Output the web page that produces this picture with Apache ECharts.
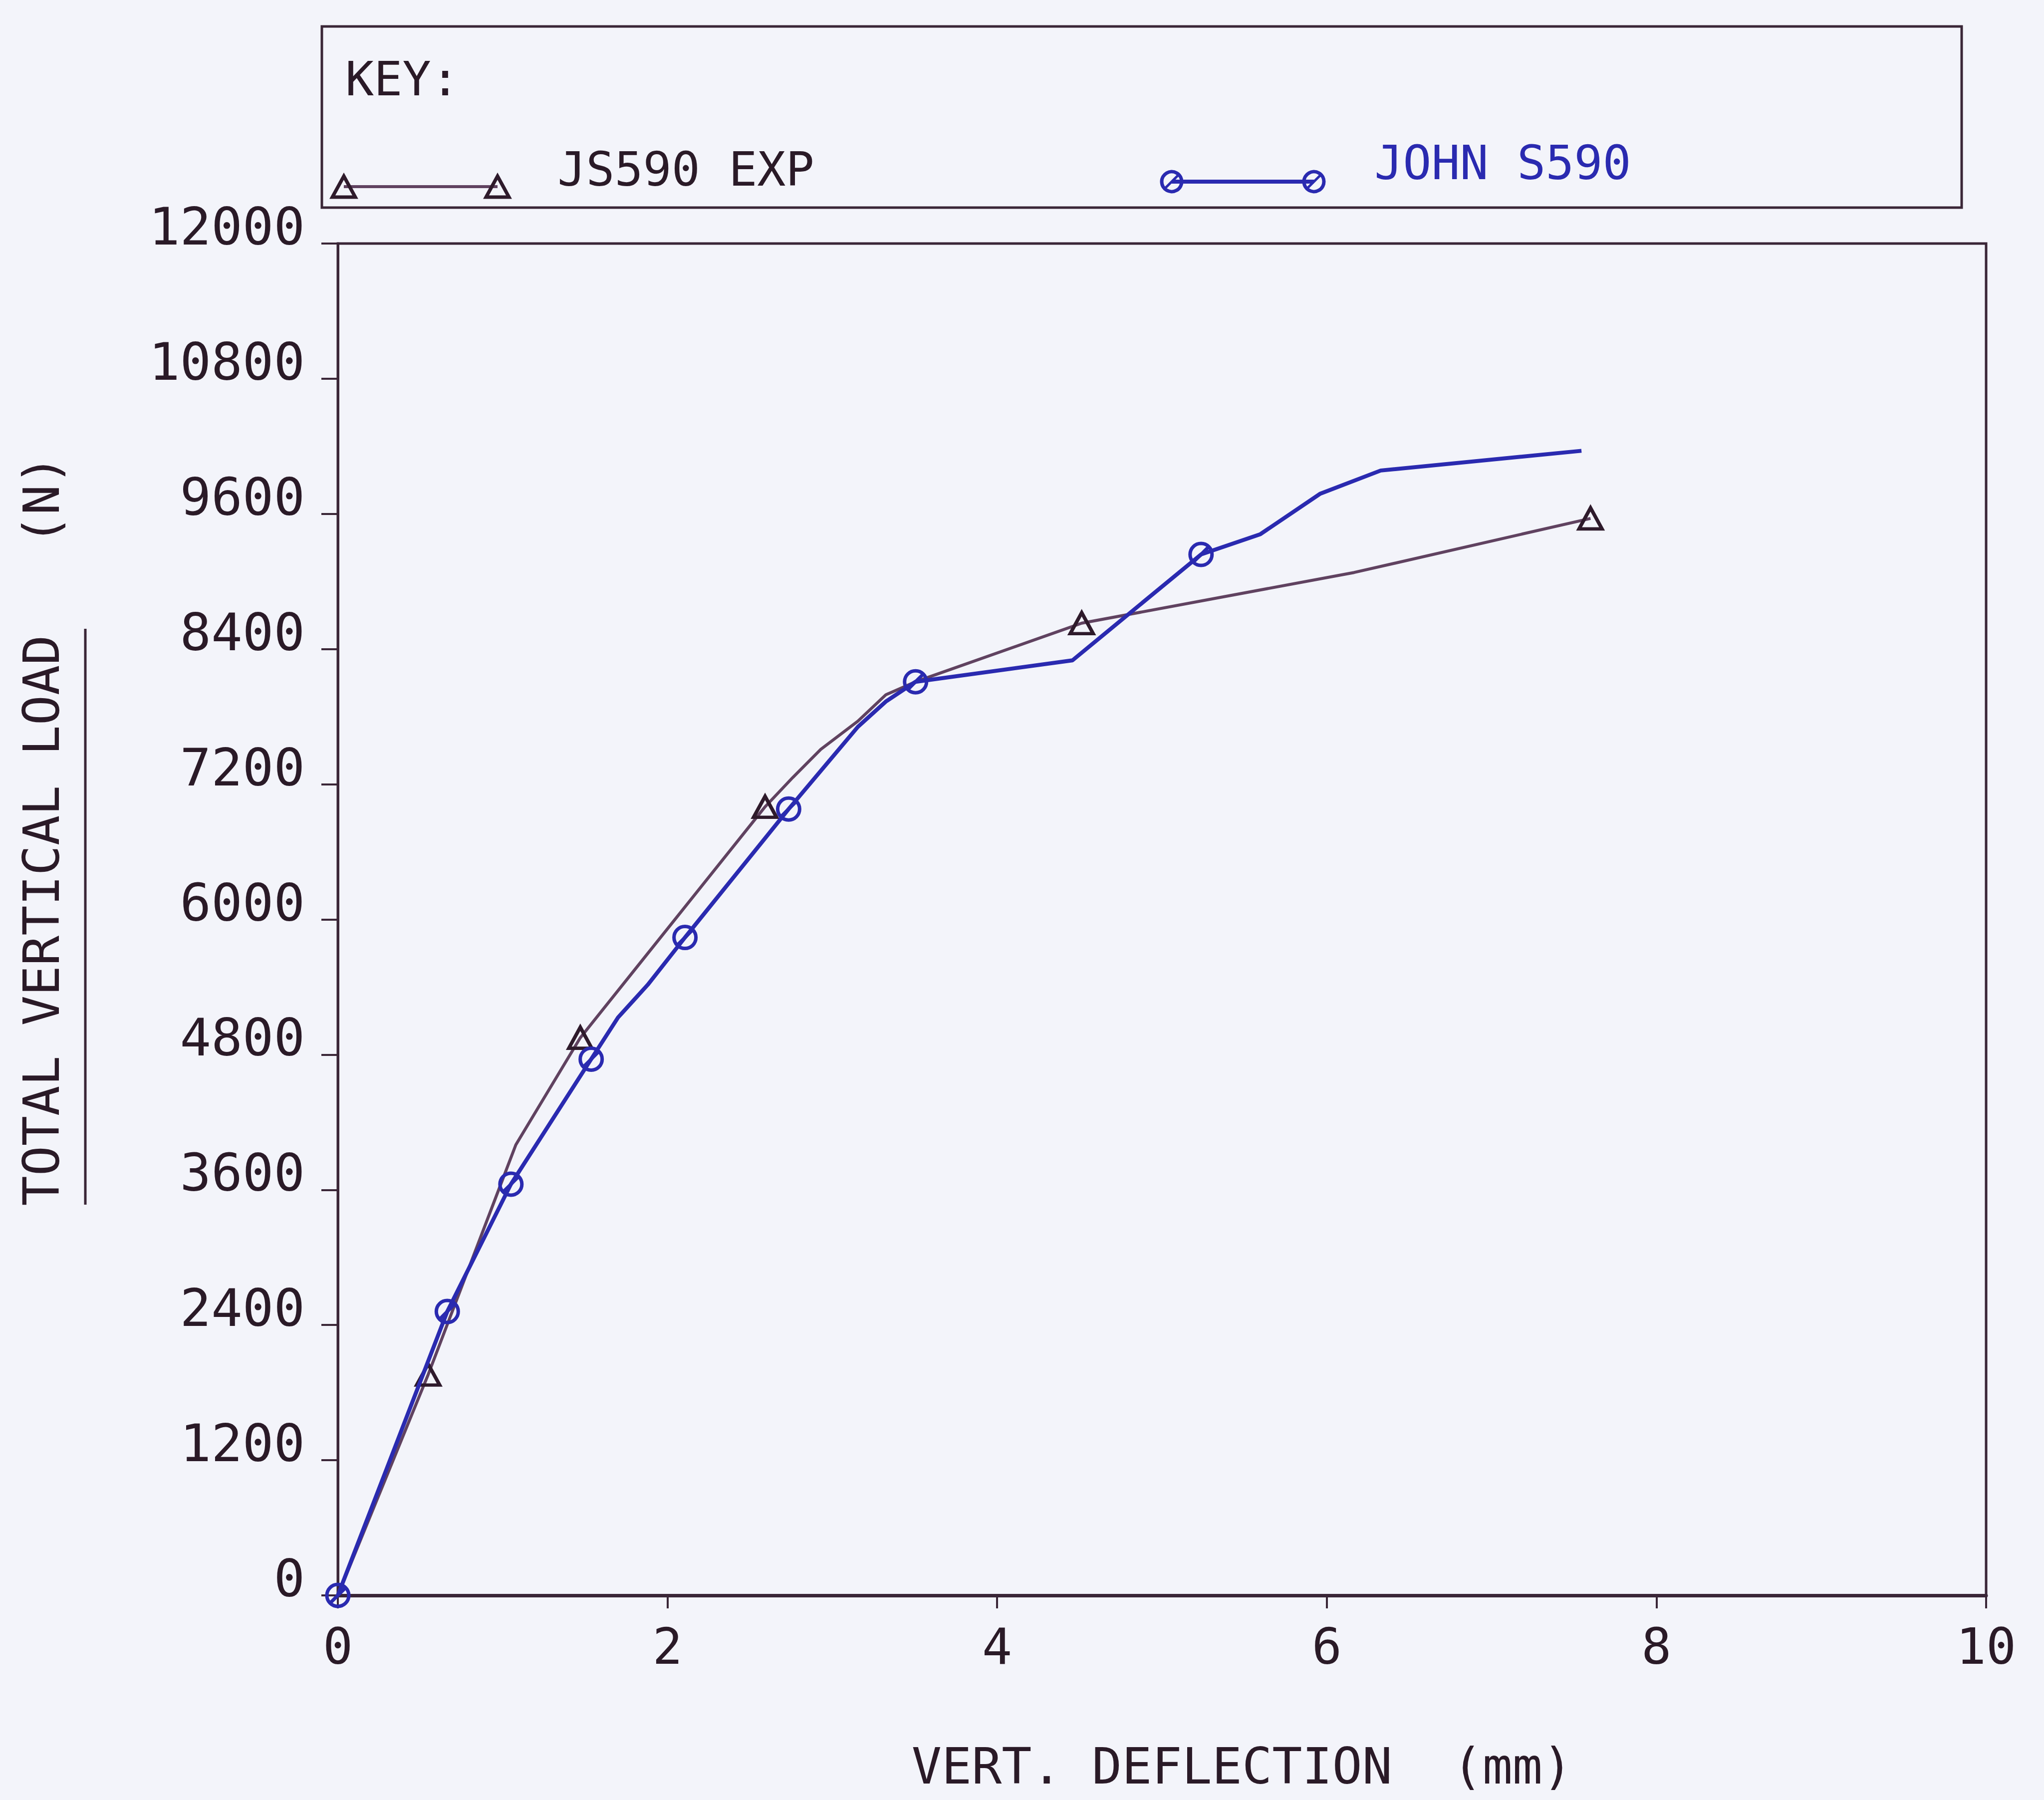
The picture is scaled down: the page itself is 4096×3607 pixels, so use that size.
<!DOCTYPE html>
<html>
<head>
<meta charset="utf-8">
<script src="https://cdn.jsdelivr.net/npm/echarts@6/dist/echarts.min.js"></script>
<style>
  html, body { margin: 0; padding: 0; background: #f3f4fa; }
  #chart { width: 4096px; height: 3607px; }
</style>
</head>
<body>
<div id="chart"></div>
<script>
// JS590 EXP: measured load vs. vertical deflection (triangle markers on the flagged readings)
const expDeflection = [0, 0.548, 1.08, 1.471, 2.592, 2.76, 2.93, 3.155, 3.325, 3.505, 4.513, 6.166, 7.60];
const expLoad       = [0, 1960, 4000, 4950, 7000, 7260, 7510, 7760, 7995, 8110, 8630, 9080, 9560];
const expMarked     = [0, 1, 0, 1, 1, 0, 0, 0, 0, 0, 1, 0, 1];

// JOHN S590: computed load vs. vertical deflection (circle markers on the flagged steps)
const johnDeflection = [0, 0.664, 1.05, 1.537, 1.70, 1.88, 2.106, 2.735, 3.155, 3.325, 3.505, 4.457, 5.237, 5.597, 5.961, 6.327, 7.545];
const johnLoad       = [0, 2520, 3650, 4760, 5130, 5420, 5840, 6980, 7710, 7935, 8110, 8300, 9240, 9420, 9780, 9985, 10160];
const johnMarked     = [1, 1, 1, 1, 0, 0, 1, 1, 0, 0, 1, 0, 1, 0, 0, 0, 0];

const seriesNames = ['JS590 EXP', 'JOHN S590'];
const xRange = [0, 10, 2];        // min, max, step (mm)
const yRange = [0, 12000, 1200];  // min, max, step (N)

const FONT = 'DejaVu Sans Mono';
const INK = '#3a2637';
const TEXT = '#2a1a27';
const EXP_LINE = '#604260';
const EXP_MARK = '#2e1a2b';
const BLUE = '#2a2ab0';

const SLASHED_CIRCLE = 'path://M0,-20A20,20,0,1,1,0,20A20,20,0,1,1,0,-20ZM-13,13L13,-13';

function toPoints(xs, ys, marked, symbol) {
  return xs.map((x, i) => ({ value: [x, ys[i]], symbol: marked[i] ? symbol : 'none' }));
}

const chart = echarts.init(document.getElementById('chart'), null, { renderer: 'svg' });

chart.setOption({
  animation: false,
  backgroundColor: '#f3f4fa',
  grid: {
    left: 677, top: 488, width: 3303, height: 2709,
    show: true, borderColor: INK, borderWidth: 5, backgroundColor: 'transparent'
  },
  xAxis: {
    type: 'value', min: xRange[0], max: xRange[1], interval: xRange[2],
    axisLine: { show: true, lineStyle: { color: INK, width: 7 } },
    axisTick: { show: true, inside: false, length: 26, lineStyle: { color: INK, width: 4 } },
    splitLine: { show: false },
    axisLabel: {
      margin: 52, color: TEXT, fontFamily: FONT, fontSize: 100,
      formatter: v => String(v)
    }
  },
  yAxis: {
    type: 'value', min: yRange[0], max: yRange[1], interval: yRange[2],
    axisLine: { show: true, lineStyle: { color: INK, width: 5 } },
    axisTick: { show: true, inside: false, length: 33, lineStyle: { color: INK, width: 4 } },
    splitLine: { show: false },
    axisLabel: {
      margin: 66, color: TEXT, fontFamily: FONT, fontSize: 104,
      verticalAlign: 'bottom', lineHeight: 68,
      formatter: v => String(v)
    }
  },
  series: [
    {
      name: seriesNames[0],
      type: 'line',
      data: toPoints(expDeflection, expLoad, expMarked, 'triangle'),
      symbolSize: [46, 42],
      lineStyle: { color: EXP_LINE, width: 6 },
      itemStyle: { color: 'none', borderColor: EXP_MARK, borderWidth: 7 },
      emphasis: { disabled: true },
      z: 2
    },
    {
      name: seriesNames[1],
      type: 'line',
      data: toPoints(johnDeflection, johnLoad, johnMarked, SLASHED_CIRCLE),
      symbolSize: 44,
      lineStyle: { color: BLUE, width: 8 },
      itemStyle: { color: 'none', borderColor: BLUE, borderWidth: 7 },
      emphasis: { disabled: true },
      z: 3
    }
  ],
  graphic: [
    // key box
    { type: 'rect', shape: { x: 645, y: 53, width: 3286, height: 363 },
      style: { fill: 'none', stroke: INK, lineWidth: 5 } },
    { type: 'text', x: 692, y: 158,
      style: { text: 'KEY:', font: '95px "' + FONT + '"', fill: TEXT, textVerticalAlign: 'middle' } },
    // key entry 1
    { type: 'line', shape: { x1: 689, y1: 374, x2: 997, y2: 374 },
      style: { stroke: EXP_LINE, lineWidth: 6 } },
    { type: 'polygon', shape: { points: [[689, 353], [712, 395], [666, 395]] },
      style: { fill: 'none', stroke: EXP_MARK, lineWidth: 7 } },
    { type: 'polygon', shape: { points: [[997, 353], [1020, 395], [974, 395]] },
      style: { fill: 'none', stroke: EXP_MARK, lineWidth: 7 } },
    { type: 'text', x: 1117, y: 339,
      style: { text: seriesNames[0], font: '95px "' + FONT + '"', fill: TEXT, textVerticalAlign: 'middle' } },
    // key entry 2
    { type: 'line', shape: { x1: 2348, y1: 364, x2: 2633, y2: 364 },
      style: { stroke: BLUE, lineWidth: 8 } },
    { type: 'circle', shape: { cx: 2348, cy: 364, r: 20 },
      style: { fill: 'none', stroke: BLUE, lineWidth: 7 } },
    { type: 'line', shape: { x1: 2335, y1: 377, x2: 2361, y2: 351 },
      style: { stroke: BLUE, lineWidth: 5 } },
    { type: 'circle', shape: { cx: 2633, cy: 364, r: 20 },
      style: { fill: 'none', stroke: BLUE, lineWidth: 7 } },
    { type: 'line', shape: { x1: 2620, y1: 377, x2: 2646, y2: 351 },
      style: { stroke: BLUE, lineWidth: 5 } },
    { type: 'text', x: 2754, y: 326,
      style: { text: seriesNames[1], font: '95px "' + FONT + '"', fill: BLUE, textVerticalAlign: 'middle' } },
    // axis titles
    { type: 'text', x: 2489, y: 3539,
      style: { text: 'VERT. DEFLECTION  (mm)', font: '100px "' + FONT + '"', fill: TEXT,
               textAlign: 'center', textVerticalAlign: 'middle' } },
    { type: 'text', x: 83, y: 1664, rotation: Math.PI / 2,
      style: { text: 'TOTAL VERTICAL LOAD   (N)', font: '100px "' + FONT + '"', fill: TEXT,
               textAlign: 'center', textVerticalAlign: 'middle' } },
    { type: 'line', shape: { x1: 171, y1: 1260, x2: 171, y2: 2414 },
      style: { stroke: INK, lineWidth: 5 } }
  ]
});
</script>
</body>
</html>
